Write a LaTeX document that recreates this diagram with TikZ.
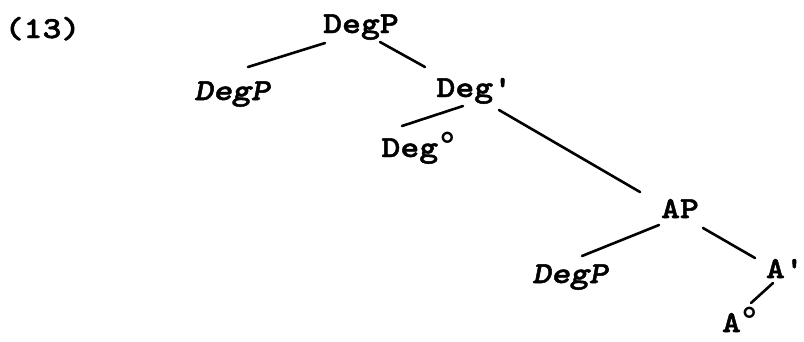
\documentclass[tikz,border=0pt]{standalone}
\usepackage{fontspec}
\usetikzlibrary{calc}
\newfontfamily\courb{lmmonolt10-bold.otf}[FakeBold=1.6,FakeStretch=1.18]
\newfontfamily\courbi{lmmonolt10-boldoblique.otf}[FakeBold=1.6,FakeStretch=1.18]
\newcommand{\degsup}{\kern-1pt\raisebox{1pt}{\ttfamily\mdseries\upshape\fontsize{40}{42}\selectfont °}\kern-4pt}
\begin{document}
\begin{tikzpicture}[x=1pt,y=-1pt,
  lbl/.style={inner sep=0pt,outer sep=0pt,font=\courb\fontsize{30.5}{36}\selectfont},
  ilbl/.style={lbl,font=\courbi\fontsize{30.5}{36}\selectfont},
  edge/.style={line width=2.6pt,line cap=round}]
\useasboundingbox (0,0) rectangle (804,341);
\node[lbl,anchor=base] (ex) at (42.5,38) {(13)};
\node[lbl,anchor=base] (top) at (361,33) {DegP};
\node[ilbl,anchor=base] (d1) at (232,100) {DegP};
\node[lbl,anchor=base west] (dp) at (436.5,97) {Deg'};
\node[lbl,anchor=base west] (d0) at (381.5,157) {Deg\degsup};
\node[lbl,anchor=base] (ap) at (680,218) {AP};
\node[ilbl,anchor=base] (d2) at (570,283) {DegP};
\node[lbl,anchor=base west] (a1) at (766,278) {A'};
\node[lbl,anchor=base west] (a0) at (722,332) {A\degsup};
\draw[edge] ($(top.base)+(-36,10)$) -- ($(d1.base)+(16,-33)$);
\draw[edge] ($(top.base)+(19,9)$) -- ($(dp.base west)+(-11.5,-30)$);
\draw[edge] ($(dp.base west)+(26.5,9)$) -- ($(d0.base west)+(20.5,-31)$);
\draw[edge] ($(dp.base west)+(62.5,13)$) -- ($(ap.base)+(-40,-26)$);
\draw[edge] ($(ap.base)+(-21,7)$) -- ($(d2.base)+(12,-27)$);
\draw[edge] ($(ap.base)+(23,10)$) -- ($(a1.base west)+(-11,-20)$);
\draw[edge] ($(a1.base west)+(7,5)$) -- ($(a0.base west)+(29,-29)$);
\end{tikzpicture}
\end{document}
